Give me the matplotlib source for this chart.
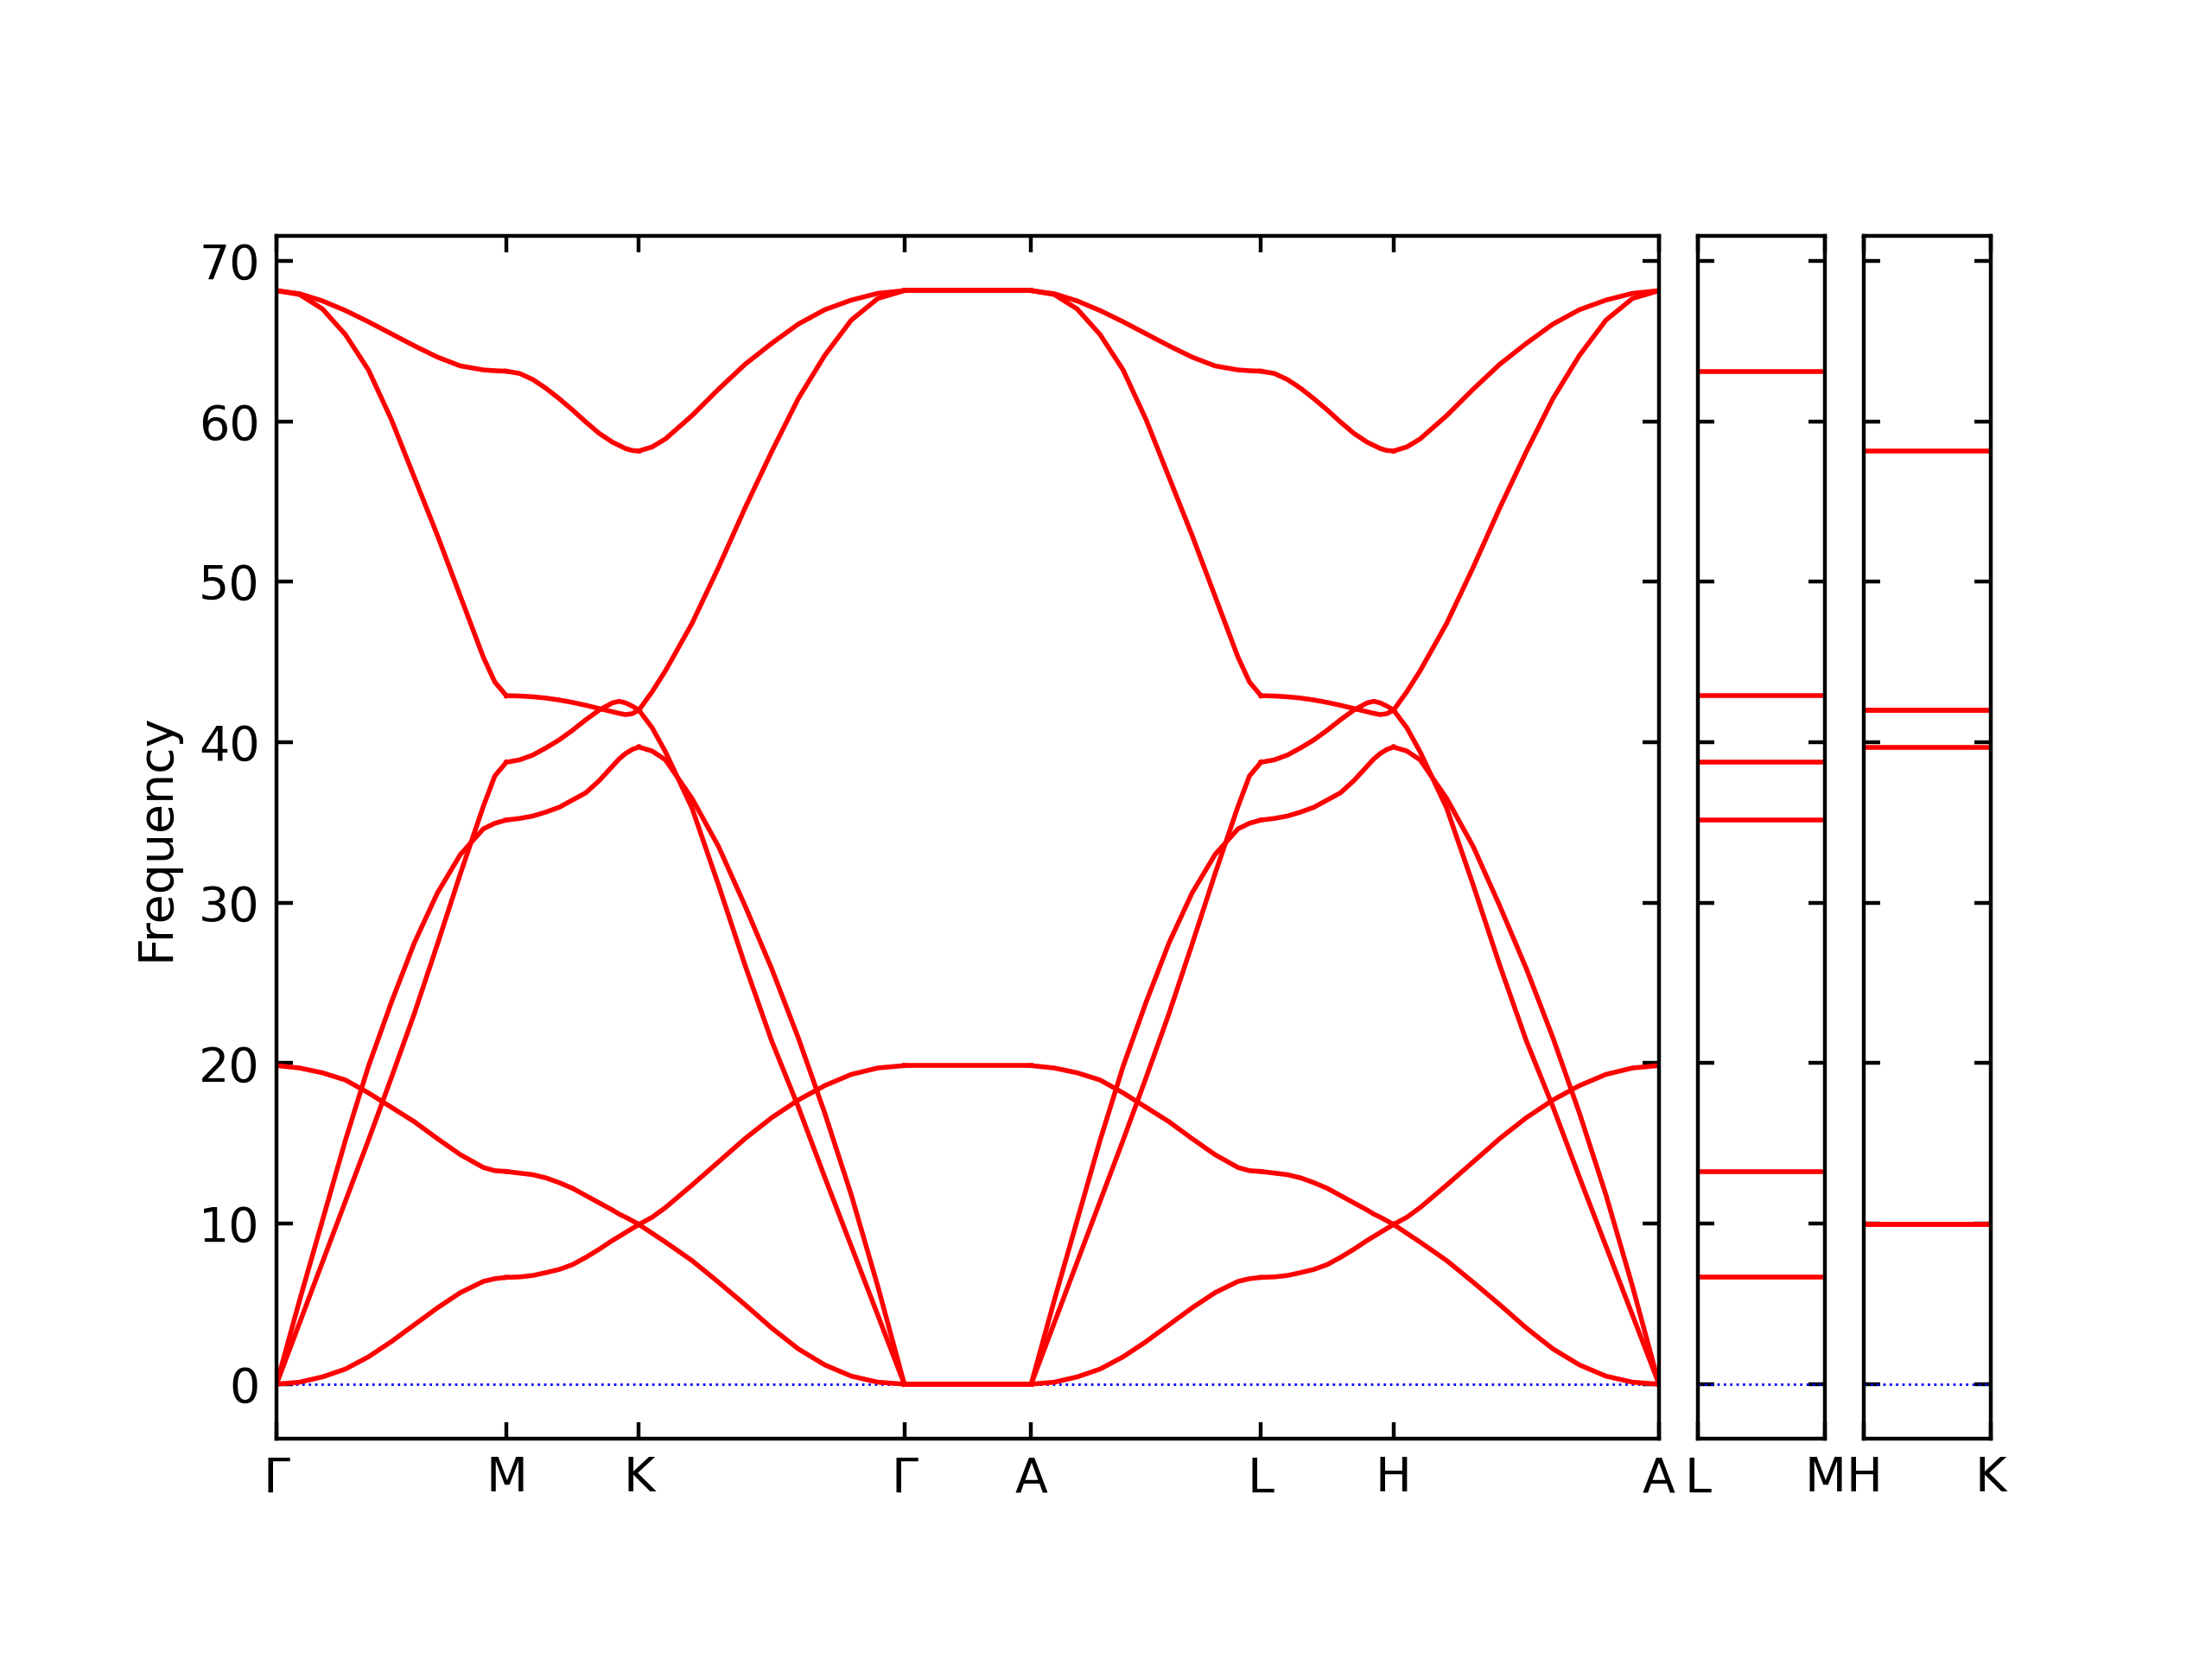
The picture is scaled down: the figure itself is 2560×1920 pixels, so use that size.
"""Phonon band structure along Γ-M-K-Γ-A-L-H-A | L-M | H-K."""
import matplotlib
matplotlib.use("Agg")
import matplotlib.pyplot as plt
import numpy as np

# segment lengths along the path (reciprocal distance, arbitrary units)
seg_gm = 1.0
seg_mk = 0.577
seg_kg = 1.155
seg_ga = 0.552

# fractional positions along each segment where the bands were read
t_gm = [0.0, 0.1, 0.2, 0.3, 0.4, 0.5, 0.6, 0.7, 0.8, 0.9, 0.95, 1.0]
t_mk = [0.0, 0.1, 0.2, 0.3, 0.4, 0.5, 0.6, 0.7, 0.8, 0.85, 0.9, 0.95, 1.0]
t_kg = [0.0, 0.05, 0.1, 0.2, 0.3, 0.4, 0.5, 0.6, 0.7, 0.8, 0.9, 1.0]

# Γ -> M
bands_gm = [
    [68.14, 67.95, 67.5, 66.9, 66.2, 65.45, 64.7, 64.0, 63.45, 63.2, 63.15, 63.12],
    [68.14, 67.9, 67.0, 65.4, 63.2, 60.1, 56.5, 52.9, 49.1, 45.3, 43.75, 42.9],
    [19.85, 19.7, 19.4, 18.95, 18.15, 17.25, 16.35, 15.3, 14.3, 13.5, 13.3, 13.25],
    [0.0, 0.12, 0.45, 0.94, 1.7, 2.65, 3.7, 4.75, 5.7, 6.4, 6.57, 6.65],
    [0.0, 5.2, 10.2, 15.2, 19.8, 23.8, 27.5, 30.6, 33.0, 34.6, 34.95, 35.15],
    [0.0, 3.8, 7.6, 11.4, 15.2, 19.1, 23.1, 27.4, 31.8, 36.0, 37.9, 38.75],
]

# M -> K
bands_mk = [
    [63.12, 62.98, 62.6, 62.05, 61.4, 60.7, 59.95, 59.25, 58.7, 58.5, 58.3, 58.18, 58.15],
    [42.9, 42.88, 42.83, 42.75, 42.63, 42.48, 42.3, 42.1, 41.9, 41.8, 41.72, 41.78, 42.0],
    [13.25, 13.15, 13.05, 12.85, 12.55, 12.2, 11.75, 11.3, 10.85, 10.6, 10.4, 10.18, 9.95],
    [6.65, 6.68, 6.77, 6.95, 7.15, 7.45, 7.9, 8.4, 8.95, 9.2, 9.45, 9.7, 9.95],
    [35.15, 35.25, 35.4, 35.65, 35.95, 36.4, 36.85, 37.6, 38.5, 38.95, 39.3, 39.55, 39.7],
    [38.75, 38.9, 39.2, 39.65, 40.15, 40.75, 41.4, 42.0, 42.45, 42.55, 42.45, 42.25, 42.0],
]

# K -> Γ
bands_kg = [
    [58.15, 58.4, 58.9, 60.35, 62.0, 63.55, 64.85, 66.05, 66.95, 67.55, 67.97, 68.14],
    [42.0, 43.15, 44.45, 47.4, 50.9, 54.6, 58.1, 61.4, 64.1, 66.3, 67.65, 68.14],
    [9.95, 10.4, 11.0, 12.4, 13.85, 15.3, 16.6, 17.7, 18.6, 19.3, 19.7, 19.85],
    [9.95, 9.4, 8.85, 7.7, 6.35, 4.95, 3.5, 2.2, 1.2, 0.5, 0.12, 0.0],
    [39.7, 39.45, 38.9, 36.5, 33.5, 29.8, 25.9, 21.6, 16.9, 11.8, 6.1, 0.0],
    [42.0, 40.9, 39.4, 35.9, 31.1, 26.1, 21.4, 17.3, 12.9, 8.6, 4.3, 0.0],
]

# no dispersion along c: values at Γ(=A), M(=L), K(=H)
bands_g = [0.0, 0.0, 0.0, 19.85, 68.14, 68.14]
bands_m = [6.65, 13.25, 35.15, 38.75, 42.9, 63.12]
bands_k = [9.95, 9.95, 39.7, 42.0, 42.0, 58.15]

main_labels = ["Γ", "M", "K", "Γ", "A", "L", "H", "A"]
lm_labels = ["L", "M"]
hk_labels = ["H", "K"]
freq_ticks = [0, 10, 20, 30, 40, 50, 60, 70]

flat_ga = [[v, v] for v in bands_g]
segments = [
    (seg_gm, t_gm, bands_gm),
    (seg_mk, t_mk, bands_mk),
    (seg_kg, t_kg, bands_kg),
    (seg_ga, [0.0, 1.0], flat_ga),
    (seg_gm, t_gm, bands_gm),   # A -> L
    (seg_mk, t_mk, bands_mk),   # L -> H
    (seg_kg, t_kg, bands_kg),   # H -> A
]

fig = plt.figure(figsize=(6.4, 4.8), dpi=400)
ax = fig.add_axes([0.125, 0.1328, 0.625, 0.725])
ax2 = fig.add_axes([0.7676, 0.1328, 0.0574, 0.725])
ax3 = fig.add_axes([0.8426, 0.1328, 0.0574, 0.725])

total = sum(s[0] for s in segments)
ax.plot([0, total], [0, 0], "b:", lw=0.5)

start = 0.0
ticks = [0.0]
for length, t, bands in segments:
    x = start + length * np.asarray(t)
    for b in bands:
        ax.plot(x, b, color="r", lw=1.0)
    start += length
    ticks.append(start)

ax.set_xlim(0, total)
ax.set_xticks(ticks, main_labels)
ax.set_ylabel("Frequency")

for side, vals, labels in [(ax2, bands_m, lm_labels), (ax3, bands_k, hk_labels)]:
    side.plot([0, seg_ga], [0, 0], "b:", lw=0.5)
    for v in vals:
        side.plot([0, seg_ga], [v, v], color="r", lw=1.0)
    side.set_xlim(0, seg_ga)
    side.set_xticks([0, seg_ga], labels)
    side.tick_params(labelleft=False)

for a in (ax, ax2, ax3):
    a.set_ylim(-3.4, 71.55)
    a.set_yticks(freq_ticks)
    a.tick_params(direction="in", top=True, right=True)

fig.savefig("out.png", dpi=400)
plt.close(fig)
